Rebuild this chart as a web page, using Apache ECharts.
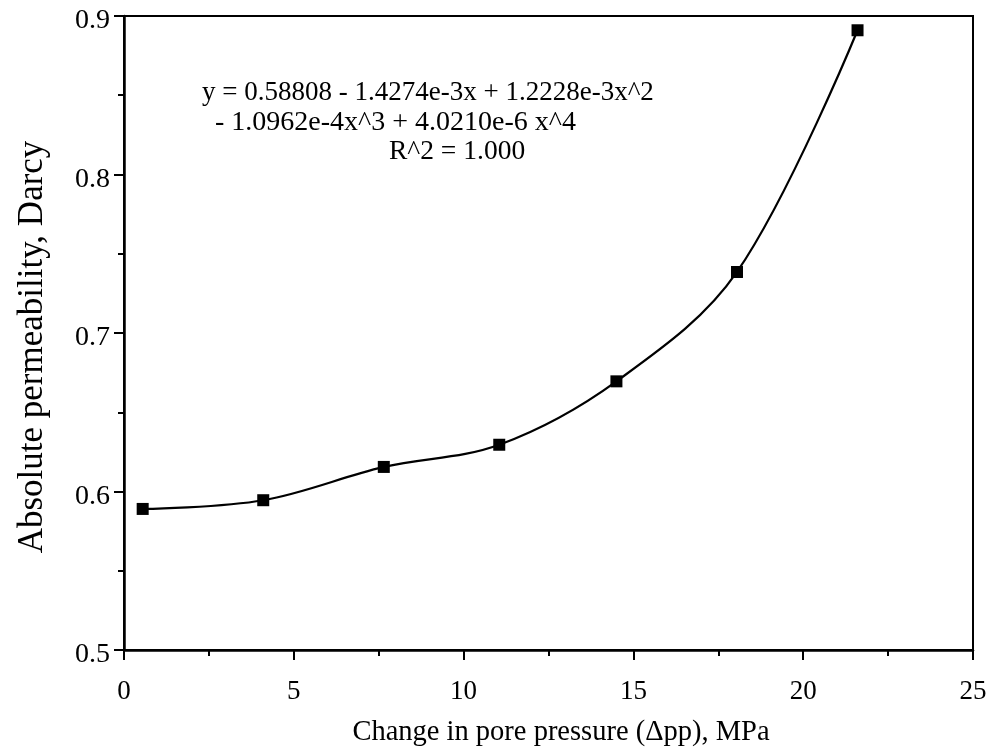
<!DOCTYPE html>
<html>
<head>
<meta charset="utf-8">
<script src="https://cdn.jsdelivr.net/npm/echarts@6/dist/echarts.min.js"></script>
<style>html,body{margin:0;padding:0;background:#fff}#c{width:990px;height:752px}</style>
</head>
<body>
<div id="c"></div>
<script>
var pressure = [0.55, 4.1, 7.65, 11.05, 14.5, 18.05, 21.6];
var permeability = [0.589, 0.5945, 0.6155, 0.6295, 0.6695, 0.7385, 0.891];
var xTicks = [0, 5, 10, 15, 20, 25];
var yTicks = [0.5, 0.6, 0.7, 0.8, 0.9];
var equationLines = [
  'y = 0.58808 - 1.4274e-3x + 1.2228e-3x^2',
  '- 1.0962e-4x^3 + 4.0210e-6 x^4',
  'R^2 = 1.000'
];
var xTitle = 'Change in pore pressure (\u0394pp), MPa';
var yTitle = 'Absolute permeability, Darcy';

var font = 'Liberation Serif';
var chart = echarts.init(document.getElementById('c'), null, {renderer: 'canvas'});
var data = pressure.map(function (x, i) { return [x, permeability[i]]; });
chart.setOption({
  backgroundColor: '#fff',
  animation: false,
  grid: {left: 124, right: 17, top: 16, bottom: 101, show: true, borderColor: '#000', borderWidth: 2},
  xAxis: {
    type: 'value', min: xTicks[0], max: xTicks[xTicks.length - 1], interval: 5,
    name: xTitle, nameLocation: 'middle', nameGap: 68,
    nameTextStyle: {fontFamily: font, fontSize: 28.5, color: '#000', padding: [0, 0, 0, 25]},
    axisLine: {show: true, lineStyle: {color: '#000', width: 2.5}},
    axisTick: {show: true, inside: false, length: 10, lineStyle: {color: '#000', width: 2}},
    minorTick: {show: true, splitNumber: 2, length: 6, lineStyle: {color: '#000', width: 2}},
    splitLine: {show: false},
    axisLabel: {fontFamily: font, fontSize: 27, color: '#000', margin: 28}
  },
  yAxis: {
    type: 'value', min: yTicks[0], max: yTicks[yTicks.length - 1], interval: 0.1,
    name: yTitle, nameLocation: 'middle', nameGap: 74,
    nameTextStyle: {fontFamily: font, fontSize: 35, color: '#000', padding: [0, 28, 0, 0]},
    axisLine: {show: true, lineStyle: {color: '#000', width: 2.5}},
    axisTick: {show: true, inside: false, length: 10, lineStyle: {color: '#000', width: 2}},
    minorTick: {show: true, splitNumber: 2, length: 6, lineStyle: {color: '#000', width: 2}},
    splitLine: {show: false},
    axisLabel: {fontFamily: font, fontSize: 28, color: '#000', margin: 14,
      formatter: function (v) { return '{a|' + v.toFixed(1) + '}'; },
      rich: {a: {fontFamily: font, fontSize: 28, color: '#000', padding: [10, 0, 0, 0]}}}
  },
  series: [{
    type: 'line', data: data, smooth: 0.35,
    symbol: 'rect', symbolSize: 12,
    lineStyle: {color: '#000', width: 2.2},
    itemStyle: {color: '#000'}
  }],
  graphic: [
    {type: 'text', left: 202, top: 79, style: {text: equationLines[0], font: '27px "Liberation Serif"', fill: '#000'}},
    {type: 'text', left: 215, top: 109, style: {text: equationLines[1], font: '28px "Liberation Serif"', fill: '#000'}},
    {type: 'text', left: 389, top: 138, style: {text: equationLines[2], font: '27.5px "Liberation Serif"', fill: '#000'}}
  ]
});
</script>
</body>
</html>
